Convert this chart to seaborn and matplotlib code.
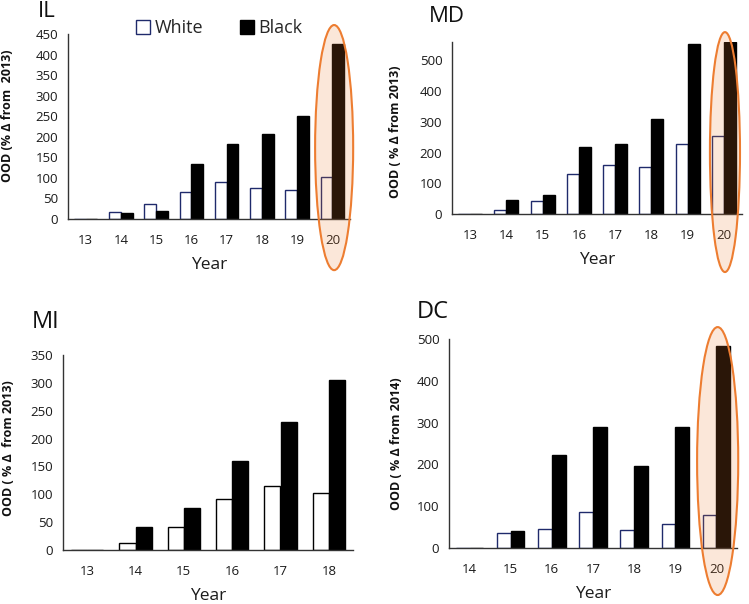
import numpy as np
import pandas as pd
import matplotlib
matplotlib.use("Agg")
import matplotlib.pyplot as plt
import matplotlib.patches as mpatches
import matplotlib.transforms as mtransforms
import seaborn as sns

il_years = ["13", "14", "15", "16", "17", "18", "19", "20"]
il_white = [0, 16, 37, 65, 89, 76, 71, 102]
il_black = [0, 14, 19, 134, 182, 206, 250, 426]

md_years = ["13", "14", "15", "16", "17", "18", "19", "20"]
md_white = [0, 14, 43, 130, 158, 152, 229, 254]
md_black = [0, 44, 62, 219, 227, 308, 552, 559]

mi_years = ["13", "14", "15", "16", "17", "18"]
mi_white = [0, 12, 42, 91, 114, 102]
mi_black = [0, 42, 76, 159, 230, 306]

dc_years = ["14", "15", "16", "17", "18", "19", "20"]
dc_white = [0, 37, 46, 86, 42, 57, 78]
dc_black = [0, 40, 222, 290, 197, 290, 484]

sns.set_style("white")
plt.rcParams["font.family"] = ["Open Sans", "DejaVu Sans"]

W, H = 749, 604
fig = plt.figure(figsize=(W / 100, H / 100), dpi=100)


def make_ax(left, right, top, bottom):
    return fig.add_axes([left / W, 1 - bottom / H, (right - left) / W, (bottom - top) / H])


def panel(ax, years, white, black, ylim, yticks, ylabel, white_edge, lab_x, lab_y):
    df = pd.DataFrame({
        "year": years * 2,
        "value": white + black,
        "race": ["White"] * len(years) + ["Black"] * len(years),
    })
    sns.barplot(data=df, x="year", y="value", hue="race", order=years,
                hue_order=["White", "Black"],
                palette={"White": "white", "Black": "black"},
                width=0.667, ax=ax, legend=False, linewidth=1)
    for p in ax.patches:
        fc = p.get_facecolor()
        p.set_edgecolor(white_edge if fc[0] > 0.5 else "black")
    n = len(years)
    ax.set_xlim(-0.5, n - 0.5)
    ax.set_ylim(*ylim)
    ax.set_yticks(yticks)
    ax.set_xticks(np.arange(n + 1) - 0.5)
    ax.set_xticklabels([])
    ax.set_xticks(np.arange(n), labels=years, minor=True)
    ax.tick_params(axis="x", which="major", direction="out", length=4, width=1, color="#333333")
    ax.tick_params(axis="x", which="minor", length=0, pad=11, labelsize=9.5, labelcolor="#1a1a1a")
    ax.tick_params(axis="y", direction="out", length=4, width=1, color="#333333",
                   labelsize=9.5, labelcolor="#1a1a1a", pad=3)
    for s in ["top", "right"]:
        ax.spines[s].set_visible(False)
    for s in ["left", "bottom"]:
        ax.spines[s].set_color("#333333")
        ax.spines[s].set_linewidth(1)
    ax.set_xlabel("Year", fontsize=12.5, color="#1a1a1a", labelpad=7)
    ax.set_ylabel(ylabel, fontsize=9, fontweight="bold", color="#111111")
    ax.yaxis.set_label_coords(lab_x, lab_y)


def highlight(ax, xc, width, yc, height):
    trans = mtransforms.blended_transform_factory(ax.transData, ax.transAxes)
    e = mpatches.Ellipse((xc, yc), width, height, transform=trans,
                         facecolor=(0.93, 0.49, 0.19, 0.18),
                         edgecolor="#ED7D31", linewidth=1.5, clip_on=False, zorder=5)
    ax.add_patch(e)


ax1 = make_ax(68, 350, 34, 219)
panel(ax1, il_years, il_white, il_black, (0, 450), range(0, 451, 50),
      "OOD (% Δ from  2013)", "#1F2A6B", -0.19, 0.56)
highlight(ax1, il_years.index("20") + 0.05, 1.08, 0.386, 1.325)
h_w = mpatches.Patch(facecolor="white", edgecolor="#1F2A6B", linewidth=1)
h_b = mpatches.Patch(facecolor="black", edgecolor="black")
ax1.legend([h_w, h_b], ["White", "Black"], ncol=2, frameon=False, loc="center",
           bbox_to_anchor=(0.537, 1.03), fontsize=13, handlelength=0.8, handleheight=0.8,
           handletextpad=0.25, columnspacing=2.0, borderaxespad=0)

ax2 = make_ax(452, 742, 42, 214)
panel(ax2, md_years, md_white, md_black, (0, 560), range(0, 501, 100),
      "OOD ( % Δ from 2013)", "#1F2A6B", -0.172, 0.48)
highlight(ax2, md_years.index("20") + 0.03, 0.83, 0.36, 1.395)

ax3 = make_ax(63, 353, 355, 550)
panel(ax3, mi_years, mi_white, mi_black, (0, 350), range(0, 351, 50),
      "OOD ( % Δ  from 2013)", "black", -0.166, 0.52)

ax4 = make_ax(449, 737, 339, 548)
panel(ax4, dc_years, dc_white, dc_black, (0, 500), range(0, 501, 100),
      "OOD ( % Δ from 2014)", "#1F2A6B", -0.16, 0.50)
highlight(ax4, dc_years.index("20") + 0.03, 1.0, 0.416, 1.282)

fig.text(38 / W, 1 - 1 / H, "IL", fontsize=16, va="top", ha="left", color="#111111")
fig.text(429 / W, 1 - 6 / H, "MD", fontsize=16, va="top", ha="left", color="#111111")
fig.text(32 / W, 1 - 310 / H, "MI", fontsize=17, va="top", ha="left", color="#111111")
fig.text(417 / W, 1 - 300 / H, "DC", fontsize=17, va="top", ha="left", color="#111111")

fig.savefig("out.png", dpi=100)
